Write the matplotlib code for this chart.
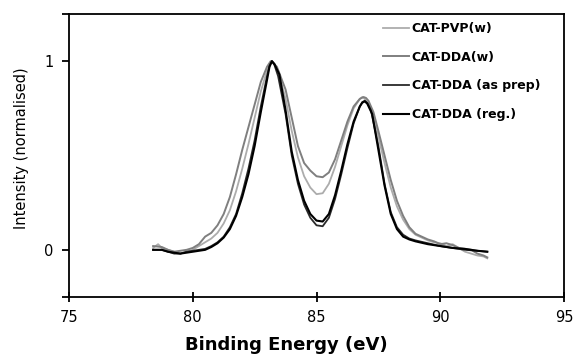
import matplotlib
matplotlib.use("Agg")
import matplotlib.pyplot as plt
from matplotlib.ticker import FixedLocator

plt.rcParams['font.family'] = ['DejaVu Sans']

# ---- data ----
x_pvp = [78.4, 78.6, 78.75, 79.0, 79.25, 79.5, 79.75, 80.0, 80.25, 80.5, 80.75, 81.0, 81.25,
         81.5, 81.75, 82.0, 82.25, 82.5, 82.75, 83.0, 83.1, 83.2, 83.3, 83.45, 83.75, 84.0, 84.25, 84.5,
         84.75, 85.0, 85.25, 85.5, 85.75, 86.0, 86.25, 86.5, 86.75, 86.85, 86.95, 87.1, 87.3, 87.5,
         87.75, 88.0, 88.25, 88.5, 88.75, 89.0, 89.25, 89.5, 89.75, 90.0, 90.25, 90.5, 90.75,
         91.0, 91.25, 91.5, 91.75, 91.9]
y_pvp = [0.01, 0.03, 0.01, 0.0, -0.01, -0.02, -0.01, 0.0, 0.02, 0.04, 0.06, 0.09, 0.14,
         0.21, 0.31, 0.43, 0.56, 0.70, 0.84, 0.95, 0.985, 1.0, 0.985, 0.95, 0.80, 0.63, 0.49, 0.39,
         0.33, 0.295, 0.30, 0.35, 0.44, 0.55, 0.66, 0.75, 0.80, 0.81, 0.80, 0.77, 0.70, 0.60,
         0.46, 0.33, 0.23, 0.16, 0.11, 0.08, 0.065, 0.05, 0.04, 0.035, 0.02, 0.03, 0.01,
         -0.01, -0.02, -0.03, -0.035, -0.045]

x_ddaw = [78.4, 78.75, 79.0, 79.25, 79.5, 79.75, 80.0, 80.25, 80.5, 80.75, 81.0, 81.25, 81.5,
          81.75, 82.0, 82.25, 82.5, 82.75, 83.0, 83.15, 83.25, 83.4, 83.75, 84.0, 84.25, 84.5, 84.75,
          85.0, 85.25, 85.5, 85.75, 86.0, 86.25, 86.5, 86.75, 86.9, 87.0, 87.1, 87.3, 87.5, 87.75,
          88.0, 88.25, 88.5, 88.75, 89.0, 89.25, 89.5, 89.75, 90.0, 90.25, 90.5, 90.75, 91.0,
          91.25, 91.5, 91.75, 91.9]
y_ddaw = [0.02, 0.015, 0.0, -0.01, -0.005, 0.0, 0.01, 0.03, 0.07, 0.09, 0.13, 0.19, 0.28,
          0.40, 0.53, 0.65, 0.77, 0.89, 0.97, 1.0, 0.99, 0.97, 0.85, 0.70, 0.55, 0.46, 0.42,
          0.39, 0.385, 0.41, 0.48, 0.58, 0.68, 0.76, 0.80, 0.81, 0.805, 0.79, 0.73, 0.63, 0.50,
          0.37, 0.26, 0.18, 0.12, 0.085, 0.07, 0.055, 0.045, 0.03, 0.035, 0.025, 0.01, 0.005,
          0.0, -0.02, -0.03, -0.04]

x_prep = [78.4, 78.75, 79.0, 79.25, 79.5, 79.75, 80.0, 80.25, 80.5, 80.75, 81.0, 81.25, 81.5,
          81.75, 82.0, 82.25, 82.5, 82.75, 83.0, 83.1, 83.2, 83.3, 83.45, 83.75, 84.0, 84.25, 84.5, 84.75,
          85.0, 85.25, 85.5, 85.75, 86.0, 86.25, 86.5, 86.75, 86.85, 86.95, 87.05, 87.2, 87.5, 87.75, 88.0,
          88.25, 88.5, 88.75, 89.0, 89.5, 90.0, 90.5, 91.0, 91.5, 91.9]
y_prep = [0.0, 0.0, -0.01, -0.02, -0.02, -0.01, -0.005, 0.0, 0.005, 0.02, 0.04, 0.07, 0.12,
          0.19, 0.30, 0.43, 0.58, 0.76, 0.92, 0.975, 1.0, 0.98, 0.92, 0.72, 0.50, 0.35, 0.24, 0.17,
          0.13, 0.125, 0.17, 0.27, 0.40, 0.54, 0.67, 0.76, 0.783, 0.79, 0.78, 0.74, 0.55, 0.35, 0.20,
          0.12, 0.08, 0.06, 0.05, 0.035, 0.02, 0.01, 0.0, -0.005, -0.01]

x_reg = [78.4, 78.75, 79.0, 79.25, 79.5, 79.75, 80.0, 80.25, 80.5, 80.75, 81.0, 81.25, 81.5,
         81.75, 82.0, 82.25, 82.5, 82.75, 83.0, 83.1, 83.2, 83.3, 83.5, 83.75, 84.0, 84.25, 84.5, 84.75,
         85.0, 85.25, 85.5, 85.75, 86.0, 86.25, 86.5, 86.75, 86.85, 86.95, 87.05, 87.25, 87.5, 87.75, 88.0,
         88.25, 88.5, 88.75, 89.0, 89.5, 90.0, 90.5, 91.0, 91.5, 91.9]
y_reg = [0.0, 0.0, -0.01, -0.015, -0.02, -0.015, -0.01, -0.005, 0.0, 0.015, 0.035, 0.065, 0.11,
         0.18, 0.28, 0.40, 0.55, 0.73, 0.90, 0.97, 1.0, 0.985, 0.93, 0.74, 0.52, 0.37, 0.26, 0.19,
         0.155, 0.15, 0.19, 0.29, 0.42, 0.56, 0.68, 0.76, 0.78, 0.787, 0.775, 0.72, 0.53, 0.34, 0.19,
         0.11, 0.07, 0.055, 0.045, 0.03, 0.02, 0.01, 0.005, -0.005, -0.01]

labels = ["CAT-PVP(w)", "CAT-DDA(w)", "CAT-DDA (as prep)", "CAT-DDA (reg.)"]
x_ticks = [75, 80, 85, 90, 95]
y_ticks = [0, 1]

# ---- figure ----
fig = plt.figure(figsize=(5.74, 3.58), dpi=100)
ax = fig.add_axes([69/574, 1 - 297/358, (564-69)/574, (297-14)/358])

l1, = ax.plot(x_pvp, y_pvp, color="#acacac", lw=1.3)
l2, = ax.plot(x_ddaw, y_ddaw, color="#7f7f7f", lw=1.4)
l3, = ax.plot(x_prep, y_prep, color="#2a2a2a", lw=1.3)
l4, = ax.plot(x_reg, y_reg, color="#000000", lw=1.5)

ax.set_xlim(75, 95)
ax.set_ylim(-0.25, 1.25)
ax.set_xticks(x_ticks)
ax.set_yticks(y_ticks)
ax.yaxis.set_minor_locator(FixedLocator([-0.25, 1.25]))

for s in ax.spines.values():
    s.set_linewidth(1.3)

ax.tick_params(axis='x', direction='inout', length=7, width=1.3, labelsize=10.5, pad=6)
ax.tick_params(axis='y', direction='out', length=5, width=1.3, labelsize=10.5, pad=6)
ax.tick_params(axis='y', which='minor', direction='out', length=5, width=1.3)

ax.set_xlabel("Binding Energy (eV)", fontsize=13, fontweight='bold')
ax.xaxis.set_label_coords((286-69)/495, (297-336)/283)
ax.set_ylabel("Intensity (normalised)", fontsize=10.5)
ax.yaxis.set_label_coords((29-69)/495, (297-148)/283)

leg = ax.legend([l1, l2, l3, l4], labels, loc='upper left',
                bbox_to_anchor=((383-69)/495, (297-22)/283),
                frameon=False, borderpad=0, borderaxespad=0,
                handlelength=2.1, handletextpad=0.2, labelspacing=1.25,
                prop={'size': 9, 'weight': 'bold'})

fig.savefig("out.png", dpi=100)
